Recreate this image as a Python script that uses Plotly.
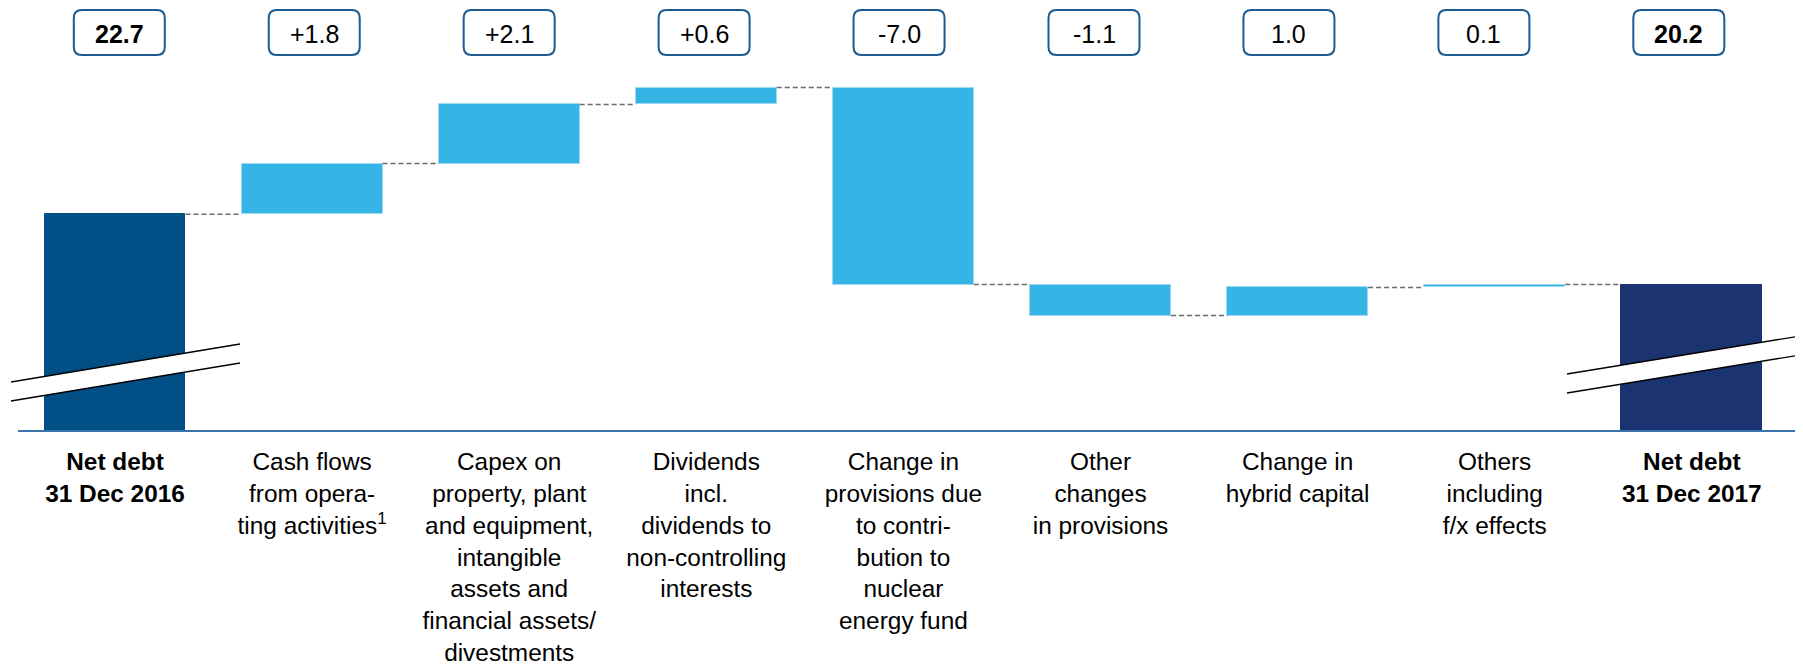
import plotly.graph_objects as go

# ---------------- data ----------------
categories = [
    "<b>Net debt<br>31 Dec 2016</b>",
    "Cash flows<br>from opera-<br>ting activities<sup>1</sup>",
    "Capex on<br>property, plant<br>and equipment,<br>intangible<br>assets and<br>financial assets/<br>divestments",
    "Dividends<br>incl.<br>dividends to<br>non-controlling<br>interests",
    "Change in<br>provisions due<br>to contri-<br>bution to<br>nuclear<br>energy fund",
    "Other<br>changes<br>in provisions",
    "Change in<br>hybrid capital",
    "Others<br>including<br>f/x effects",
    "<b>Net debt<br>31 Dec 2017</b>",
]
measures = ["total", "rel", "rel", "rel", "rel", "rel", "rel", "rel", "total"]
values = [22.7, 1.8, 2.1, 0.6, -7.0, -1.1, 1.0, 0.1, 20.2]
value_labels = ["22.7", "+1.8", "+2.1", "+0.6", "-7.0", "-1.1", "1.0", "0.1", "20.2"]

# ---------------- layout constants (page pixels; body margin = 8px) ----------------
OFF = 8
W, H = 1803 - 2 * OFF, 667 - OFF
BASE_PAGE_Y = 431                  # axis baseline on page
M_L, M_R, M_T = 0, 0, 0
PLOT_H = BASE_PAGE_Y - OFF - M_T   # plot height in px
M_B = H - M_T - PLOT_H
PX_PER_X = 197.1
X0_PAGE = 115.0
PX_PER_Y = 28.15
Y_MIN = 15.0
x0_fig = X0_PAGE - OFF - M_L
x_range = [-x0_fig / PX_PER_X, -x0_fig / PX_PER_X + (W - M_L - M_R) / PX_PER_X]
y_range = [Y_MIN, Y_MIN + PLOT_H / PX_PER_Y]
BAR_W = 0.715

C_START = "#004f86"
C_END = "#1b3370"
C_DELTA = "#35b5e6"
C_DELTA_EDGE = "#9bdaf2"
C_BOX = "#1c5a92"
C_AXIS = "#3a72aa"
FONT = "Liberation Sans, Arial, sans-serif"


def px(xp):
    """page x pixel -> paper fraction"""
    return (xp - OFF - M_L) / (W - M_L - M_R)


def py(yp):
    """page y pixel -> paper fraction"""
    return (BASE_PAGE_Y - yp) / PLOT_H


# ---------------- compute waterfall geometry ----------------
idx = list(range(len(values)))
bases, heights, colors, edges = [], [], [], []
levels = []
running = 0.0
for i, (m, v) in enumerate(zip(measures, values)):
    if m == "total":
        bases.append(0.0)
        heights.append(v)
        running = v
        colors.append(C_START if i == 0 else C_END)
        edges.append(C_START if i == 0 else C_END)
    else:
        bases.append(running)
        heights.append(v)
        running += v
        colors.append(C_DELTA)
        edges.append(C_DELTA_EDGE)
    levels.append(running)

fig = go.Figure()
fig.add_trace(go.Bar(
    x=idx, y=heights, base=bases, width=BAR_W,
    marker=dict(color=colors, line=dict(color=edges, width=1)),
    hoverinfo="skip", showlegend=False,
))

# connectors
cx, cy = [], []
for i in range(len(values) - 1):
    cx += [i + BAR_W / 2, i + 1 - BAR_W / 2, None]
    cy += [levels[i], levels[i], None]
fig.add_trace(go.Scatter(
    x=cx, y=cy, mode="lines",
    line=dict(color="#6b6b6b", width=1.5, dash="5px,3px"),
    hoverinfo="skip", showlegend=False,
))

shapes = []
annotations = []

# value boxes (rounded)
BOX_W, BOX_H, R = 91, 45, 8
BOX_CY = 32.5
for i, lab in enumerate(value_labels):
    bcx = 119.3 + 194.94 * i
    x1, x2 = bcx - BOX_W / 2, bcx + BOX_W / 2
    y1, y2 = BOX_CY - BOX_H / 2, BOX_CY + BOX_H / 2
    pts = [
        ("M", x1 + R, y1), ("L", x2 - R, y1), ("Q", x2, y1, x2, y1 + R),
        ("L", x2, y2 - R), ("Q", x2, y2, x2 - R, y2), ("L", x1 + R, y2),
        ("Q", x1, y2, x1, y2 - R), ("L", x1, y1 + R), ("Q", x1, y1, x1 + R, y1),
    ]
    path = ""
    for p in pts:
        if p[0] == "Q":
            path += f"Q{px(p[1]):.6f},{py(p[2]):.6f} {px(p[3]):.6f},{py(p[4]):.6f} "
        else:
            path += f"{p[0]}{px(p[1]):.6f},{py(p[2]):.6f} "
    path += "Z"
    shapes.append(dict(type="path", xref="paper", yref="paper", path=path,
                       fillcolor="white", line=dict(color=C_BOX, width=2)))
    bold = measures[i] == "total"
    annotations.append(dict(
        xref="paper", yref="paper", x=px(bcx), y=py(BOX_CY + 1),
        text=f"<b>{lab}</b>" if bold else lab, showarrow=False,
        xanchor="center", yanchor="middle",
        font=dict(family=FONT, size=25, color="black"),
    ))

# baseline
shapes.append(dict(type="line", xref="paper", yref="paper",
                   x0=px(18), x1=1, y0=py(BASE_PAGE_Y), y1=py(BASE_PAGE_Y),
                   line=dict(color=C_AXIS, width=2)))

# axis-break marks on the total bars
for (xa, ya_up, xb, yb_up) in [(11, 382, 240, 344), (1567, 374, 1800, 336)]:
    gap = 19
    poly = (f"M{px(xa)},{py(ya_up)} L{px(xb)},{py(yb_up)} "
            f"L{px(xb)},{py(yb_up + gap)} L{px(xa)},{py(ya_up + gap)} Z")
    shapes.append(dict(type="path", xref="paper", yref="paper", path=poly,
                       fillcolor="white", line=dict(width=0)))
    for off in (0, gap):
        shapes.append(dict(type="line", xref="paper", yref="paper",
                           x0=px(xa), y0=py(ya_up + off), x1=px(xb), y1=py(yb_up + off),
                           line=dict(color="black", width=1.3)))

fig.update_layout(
    template="none",
    width=W, height=H,
    margin=dict(l=M_L, r=M_R, t=M_T, b=M_B, pad=0, autoexpand=False),
    plot_bgcolor="white", paper_bgcolor="white",
    shapes=shapes, annotations=annotations,
    bargap=0,
    xaxis=dict(range=x_range, tickvals=idx, ticktext=categories,
               showgrid=False, zeroline=False, showline=False, ticks="",
               automargin=False,
               ticklabelstandoff=14,
               tickfont=dict(family=FONT, size=24.4, color="black"),
               fixedrange=True),
    yaxis=dict(range=y_range, visible=False, fixedrange=True, automargin=False),
)

fig.write_html("out.html")
